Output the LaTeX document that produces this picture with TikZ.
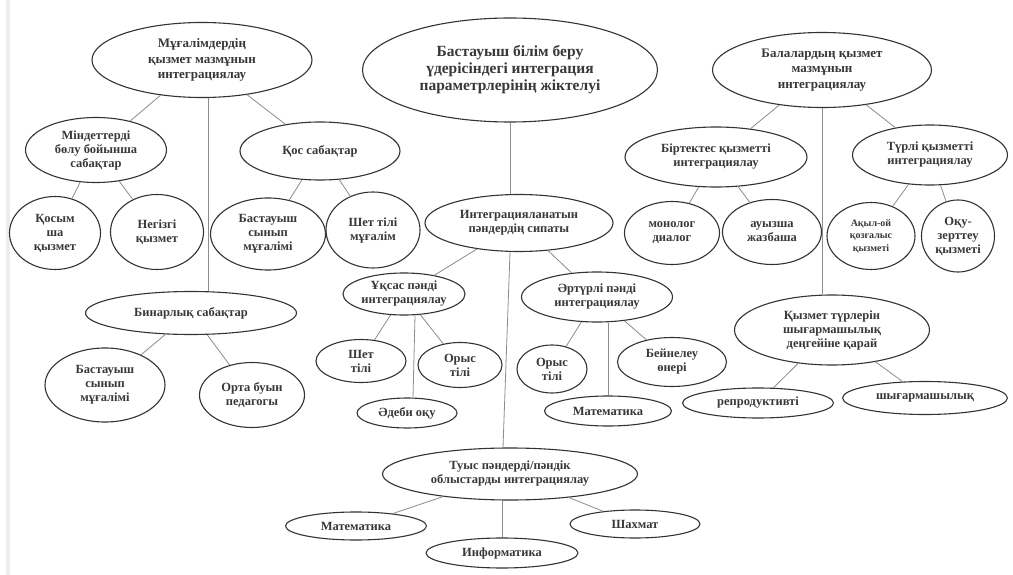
\documentclass[tikz,border=0pt]{standalone}
\usepackage{fontspec}
\setmainfont{Liberation Serif}
\usetikzlibrary{shapes.geometric,positioning}

\tikzset{
  oval/.style={draw=black!80, line width=1.1pt, ellipse, inner sep=0pt, align=center,
    text=black!78, font=\fontsize{12.5}{14}\selectfont\bfseries},
  sz/.style 2 args={minimum width=#1pt, minimum height=#2pt},
  link/.style={draw=black!45, line width=0.8pt},
  bigtext/.style={font=\fontsize{15.5}{17}\selectfont\bfseries},
  midtext/.style={font=\fontsize{13}{15.5}\selectfont\bfseries},
  smalltext/.style={font=\fontsize{10}{12.5}\selectfont\bfseries},
}

\begin{document}
\begin{tikzpicture}[x=1pt,y=1pt,on grid]
  \useasboundingbox[fill=white] (0,0) rectangle (1013,-575);
  \fill[black!7] (6,0) rectangle (10,-575);

  % top row
  \node[oval,bigtext,sz={295}{104}] (main) at (510,-70)
    {Бастауыш білім беру\\үдерісіндегі интеграция\\параметрлерінің жіктелуі};
  \node[oval,midtext,sz={220}{75}] (tl) [above left=10pt and 308pt of main]
    {Мұғалімдердің\\қызмет мазмұнын\\интеграциялау};
  \node[oval,midtext,sz={219}{75}] (tr) [right=312pt of main]
    {Балалардың қызмет\\мазмұнын\\интеграциялау};

  % teachers
  \node[oval,sz={141}{65}] (mind) [below left=90pt and 106pt of tl] {Міндеттерді\\бөлу бойынша\\сабақтар};
  \node[oval,sz={160}{58}] (qos) [below right=91pt and 118pt of tl] {Қос сабақтар};
  \node[oval,sz={91}{73}] (qosym) [below left=83pt and 41pt of mind] {Қосым\\ша\\қызмет};
  \node[oval,sz={93}{75}] (negiz) [below right=82pt and 61pt of mind] {Негізгі\\қызмет};
  \node[oval,sz={115}{72}] (bsm1) [below left=83pt and 52pt of qos] {Бастауыш\\сынып\\мұғалімі};
  \node[oval,sz={94}{76}] (shetm) [below right=79pt and 53pt of qos] {Шет тілі\\мұғалім};
  \node[oval,sz={211}{43}] (bin) [below left=253pt and 11pt of tl] {Бинарлық сабақтар};
  \node[oval,sz={120}{74}] (bsm2) [below left=72pt and 86pt of bin] {Бастауыш\\сынып\\мұғалімі};
  \node[oval,sz={105}{65}] (orta) [below right=82pt and 61pt of bin] {Орта буын\\педагогы};

  % subjects
  \node[oval,sz={188}{57}] (integ) [below right=153pt and 9pt of main] {Интеграцияланатын\\пәндердің сипаты};
  \node[oval,sz={122}{42},inner xsep=-6pt] (uqs) [below left=71pt and 115pt of integ] {Ұқсас пәнді\\интеграциялау};
  \node[oval,sz={151}{50}] (art) [below right=74pt and 78pt of integ] {Әртүрлі пәнді\\интеграциялау};
  \node[oval,sz={90}{43}] (shet) [below left=67pt and 43pt of uqs] {Шет\\тілі};
  \node[oval,sz={84}{45}] (orys1) [below right=71pt and 56pt of uqs] {Орыс\\тілі};
  \node[oval,sz={100}{30}] (adebi) [below right=119pt and 3pt of uqs] {Әдеби оқу};
  \node[oval,sz={70}{48}] (orys2) [below left=72pt and 45pt of art] {Орыс\\тілі};
  \node[oval,sz={109}{49}] (bein) [below right=65pt and 75pt of art] {Бейнелеу\\өнері};
  \node[oval,sz={127}{30}] (math1) [below right=114pt and 11pt of art] {Математика};
  \node[oval,sz={255}{52}] (tuys) [below left=251pt and 9pt of integ] {Туыс пәндерді/пәндік\\облыстарды интеграциялау};
  \node[oval,sz={141}{28}] (math2) [below left=52pt and 154pt of tuys] {Математика};
  \node[oval,sz={130}{28}] (shax) [below right=50pt and 125pt of tuys] {Шахмат};
  \node[oval,sz={152}{30}] (info) [below left=79pt and 8pt of tuys] {Информатика};

  % children
  \node[oval,sz={182}{60}] (birt) [below left=87pt and 106pt of tr] {Біртектес қызметті\\интеграциялау};
  \node[oval,sz={155}{60}] (turli) [below right=85pt and 108pt of tr] {Түрлі қызметті\\интеграциялау};
  \node[oval,sz={95}{63}] (monol) [below left=76pt and 44pt of birt] {монолог\\диалог};
  \node[oval,sz={99}{65}] (auyz) [below right=75pt and 56pt of birt] {ауызша\\жазбаша};
  \node[oval,smalltext,sz={88}{67}] (aqyl) [below left=81pt and 59pt of turli] {Ақыл-ой\\қозғалыс\\қызметі};
  \node[oval,sz={73}{72}] (oqu) [below right=81pt and 28pt of turli] {Оқу-\\зерттеу\\қызметі};
  \node[oval,sz={195}{70}] (qyzt) [below right=260pt and 10pt of tr] {Қызмет түрлерін\\шығармашылық\\деңгейіне қарай};
  \node[oval,sz={151}{30}] (repr) [below left=73pt and 74pt of qyzt] {репродуктивті};
  \node[oval,sz={165}{33}] (shyg) [below right=68pt and 93pt of qyzt] {шығармашылық};

  \path[link]
    (tl) edge (mind) edge (qos)
    (mind) edge (qosym) edge (negiz)
    (qos) edge (bsm1) edge (shetm)
    (bin) edge (bsm2) edge (orta)
    (integ) edge (uqs) edge (art)
    (uqs) edge (shet) edge (orys1)
    (art) edge (orys2) edge (bein)
    (tuys) edge (math2) edge (shax)
    (tr) edge (birt) edge (turli)
    (birt) edge (monol) edge (auyz)
    (turli) edge (aqyl) edge (oqu)
    (qyzt) edge (repr) edge (shyg);

  \coordinate (tlv) at ([xshift=6pt]tl.south);
  \draw[link] (tlv) -- (tlv |- bin.north);
  \draw[link] (main.south) -- (main.south |- integ.north);
  \draw[link] (tr.south) -- (tr.south |- qyzt.north);
  \draw[link] ([xshift=-9pt]integ.south) -- ([xshift=-7pt]tuys.north);
  \draw[link] ([xshift=11pt]uqs.south) -- ([xshift=6pt]adebi.north);
  \draw[link] (math1.north |- art.south) -- (math1.north);
  \draw[link] (info.north |- tuys.south) -- (info.north);
\end{tikzpicture}
\end{document}
